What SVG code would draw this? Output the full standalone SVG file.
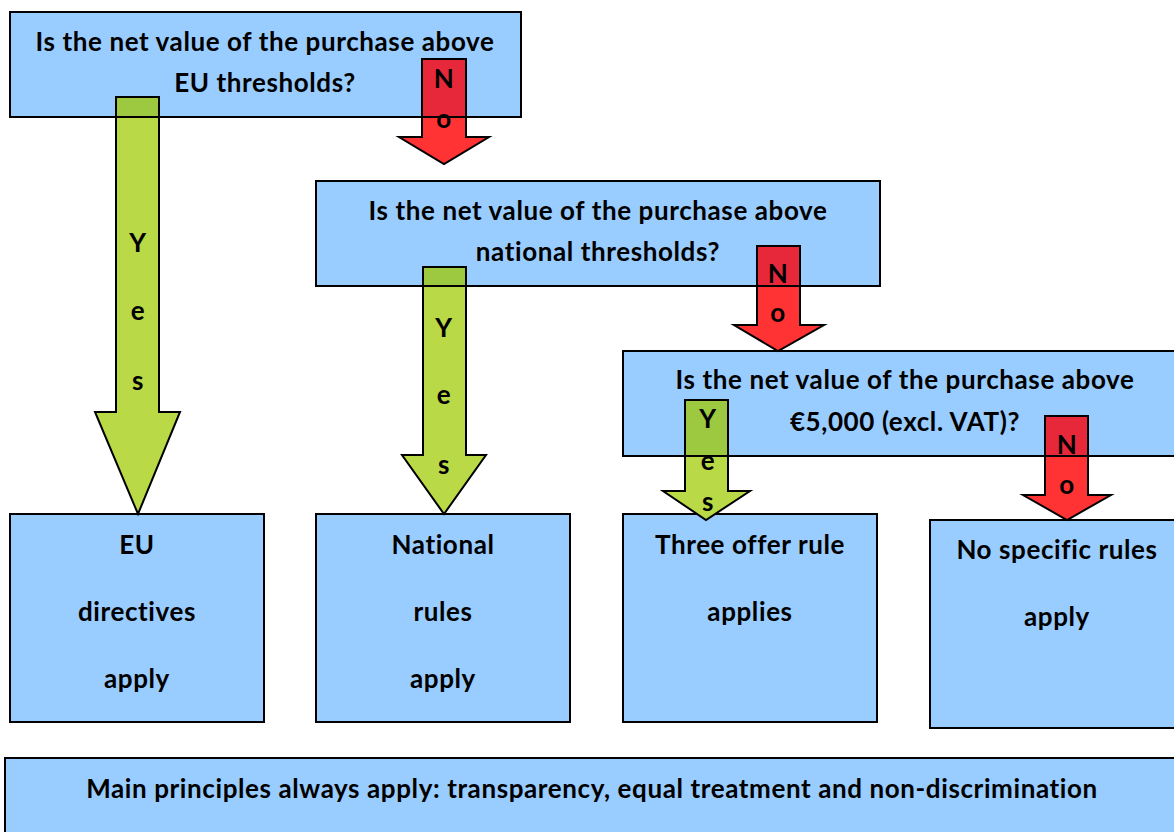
<svg xmlns="http://www.w3.org/2000/svg" width="1174" height="832" viewBox="0 0 1174 832">
  <style>
    .box { fill: #99CCFF; stroke: #000; stroke-width: 2; }
    .edge { fill: none; stroke: #000; stroke-width: 2; }
    .t { font-family: Lato, "Liberation Sans", sans-serif; font-weight: bold; font-size: 26px; letter-spacing: 0.6px; fill: #000; text-anchor: middle; }
    .yes { fill: #B9D946; stroke: #000; stroke-width: 2; stroke-linejoin: miter; }
    .no { fill: #FF3333; stroke: #000; stroke-width: 2; stroke-linejoin: miter; }
    .yes-in { fill: #9CC940; }
    .no-in { fill: #E6283A; }
  </style>

  <rect width="1174" height="832" fill="#fff"/>

  <!-- decision boxes -->
  <g id="q-eu">
    <rect class="box" x="10" y="12" width="511" height="105"/>
    <text class="t" x="265" y="51">Is the net value of the purchase above</text>
    <text class="t" x="265" y="92">EU thresholds?</text>
  </g>
  <g id="q-national">
    <rect class="box" x="316" y="181" width="564" height="105"/>
    <text class="t" x="598" y="220">Is the net value of the purchase above</text>
    <text class="t" x="598" y="261">national thresholds?</text>
  </g>
  <g id="q-5000">
    <rect class="box" x="623" y="351" width="564" height="105"/>
    <text class="t" x="905" y="389">Is the net value of the purchase above</text>
    <text class="t" x="905" y="431">€5,000 (excl. VAT)?</text>
  </g>

  <!-- outcome boxes -->
  <g id="r-eu">
    <rect class="box" x="10" y="514" width="254" height="208"/>
    <text class="t" x="137" y="554">EU</text>
    <text class="t" x="137" y="621">directives</text>
    <text class="t" x="137" y="688">apply</text>
  </g>
  <g id="r-national">
    <rect class="box" x="316" y="514" width="254" height="208"/>
    <text class="t" x="443" y="554">National</text>
    <text class="t" x="443" y="621">rules</text>
    <text class="t" x="443" y="688">apply</text>
  </g>
  <g id="r-three">
    <rect class="box" x="623" y="514" width="254" height="208"/>
    <text class="t" x="750" y="554">Three offer rule</text>
    <text class="t" x="750" y="621">applies</text>
  </g>
  <g id="r-none">
    <rect class="box" x="930" y="520" width="260" height="208"/>
    <text class="t" x="1057" y="559">No specific rules</text>
    <text class="t" x="1057" y="626">apply</text>
  </g>
  <g id="principles">
    <rect class="box" x="5" y="758" width="1190" height="100"/>
    <text class="t" x="592" y="798">Main principles always apply: transparency, equal treatment and non-discrimination</text>
  </g>

  <!-- block arrows -->
  <g id="connectors">
    <!-- Yes: EU question to EU directives -->
    <polygon class="yes" points="116,97 159,97 159,412 180,412 138,514 95,412 116,412"/>
    <rect class="yes-in" x="117" y="98" width="41" height="18"/>
    <line class="edge" x1="116" y1="117" x2="159" y2="117"/>
    <text class="t" x="138" y="252">Y</text>
    <text class="t" x="138" y="320">e</text>
    <text class="t" x="138" y="390">s</text>

    <!-- No: EU question to national question -->
    <polygon class="no" points="422,59 466,59 466,137 489,137 444,164 399,137 422,137"/>
    <rect class="no-in" x="423" y="60" width="42" height="56"/>
    <line class="edge" x1="422" y1="117" x2="466" y2="117"/>
    <text class="t" x="444" y="88">N</text>
    <text class="t" x="444" y="128">o</text>

    <!-- Yes: national question to national rules -->
    <polygon class="yes" points="423,267 466,267 466,455 486,455 444,514 402,455 423,455"/>
    <rect class="yes-in" x="424" y="268" width="41" height="17"/>
    <line class="edge" x1="423" y1="286" x2="466" y2="286"/>
    <text class="t" x="444" y="337">Y</text>
    <text class="t" x="444" y="404">e</text>
    <text class="t" x="444" y="474">s</text>

    <!-- No: national question to 5,000 question -->
    <polygon class="no" points="757,246 800,246 800,325 824,325 778,351 734,325 757,325"/>
    <rect class="no-in" x="758" y="247" width="41" height="38"/>
    <line class="edge" x1="757" y1="286" x2="800" y2="286"/>
    <text class="t" x="778" y="283">N</text>
    <text class="t" x="778" y="322">o</text>

    <!-- Yes: 5,000 question to three offer rule -->
    <polygon class="yes" points="685,400 728,400 728,491 750,491 706,520 663,491 685,491"/>
    <rect class="yes-in" x="686" y="401" width="41" height="54"/>
    <line class="edge" x1="685" y1="456" x2="728" y2="456"/>
    <text class="t" x="708" y="428">Y</text>
    <text class="t" x="708" y="470">e</text>
    <text class="t" x="708" y="511">s</text>

    <!-- No: 5,000 question to no specific rules -->
    <polygon class="no" points="1045,416 1088,416 1088,495 1111,495 1067,520 1023,495 1045,495"/>
    <rect class="no-in" x="1046" y="417" width="41" height="38"/>
    <line class="edge" x1="1045" y1="456" x2="1088" y2="456"/>
    <text class="t" x="1067" y="454">N</text>
    <text class="t" x="1067" y="494">o</text>
  </g>
</svg>
